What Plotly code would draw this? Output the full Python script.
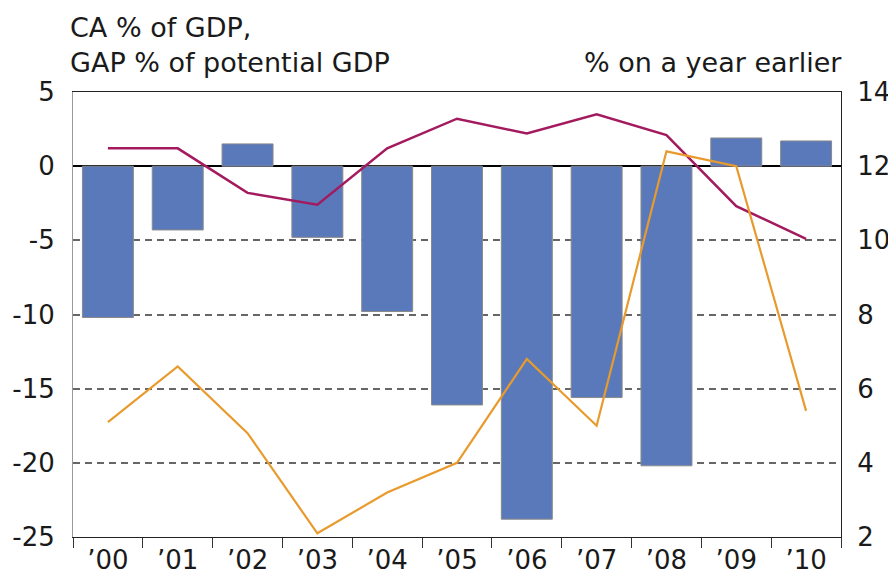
import plotly.graph_objects as go

years = ["’00", "’01", "’02", "’03", "’04", "’05", "’06", "’07", "’08", "’09", "’10"]
ca_pct_gdp = [-10.2, -4.3, 1.5, -4.8, -9.8, -16.1, -23.8, -15.6, -20.2, 1.9, 1.7]
output_gap = [1.2, 1.2, -1.8, -2.6, 1.2, 3.2, 2.2, 3.5, 2.1, -2.7, -4.9]
inflation = [5.1, 6.6, 4.8, 2.1, 3.2, 4.0, 6.8, 5.0, 12.4, 12.0, 5.4]

FONT = "DejaVu Sans"

fig = go.Figure()
fig.add_trace(go.Bar(
    x=years, y=ca_pct_gdp, width=0.73,
    marker=dict(color="#5A79BA", line=dict(color="#8a8a8a", width=1)),
    yaxis="y", showlegend=False,
))
fig.add_trace(go.Scatter(
    x=years, y=output_gap, mode="lines",
    line=dict(color="#A31A5F", width=2.5),
    yaxis="y", showlegend=False,
))
fig.add_trace(go.Scatter(
    x=years, y=inflation, mode="lines",
    line=dict(color="#E89B2C", width=2.2),
    yaxis="y2", showlegend=False,
))

fig.update_layout(
    width=896, height=574,
    margin=dict(l=65, r=63, t=84, b=45, autoexpand=False),
    paper_bgcolor="white", plot_bgcolor="white",
    font=dict(family=FONT, size=26, color="#1a1a1a"),
    xaxis=dict(
        type="category", tickson="boundaries", ticks="outside", ticklen=10,
        tickcolor="#333", tickwidth=1, automargin=False,
        showline=True, linecolor="#222", linewidth=1.2, mirror=True,
        showgrid=False, tickfont=dict(size=26),
    ),
    yaxis=dict(
        range=[-25, 5], tickvals=[-25, -20, -15, -10, -5, 0, 5],
        ticktext=["-25", "-20", "-15", "-10", "-5", "0", "5"],
        showgrid=True, gridcolor="#666", griddash="7px,5px", gridwidth=1.6,
        zeroline=True, zerolinecolor="#000", zerolinewidth=1.5,
        showline=True, linecolor="#999", linewidth=1, automargin=False,
        ticks="", ticklabelstandoff=12,
    ),
    yaxis2=dict(
        range=[2, 14], tickvals=[2, 4, 6, 8, 10, 12, 14],
        overlaying="y", side="right", showgrid=False, zeroline=False,
        showline=True, linecolor="#222", linewidth=1.2, automargin=False,
        ticks="", ticklabelstandoff=10,
    ),
    annotations=[
        dict(text="CA % of GDP,", xref="paper", yref="paper",
             x=0, y=1.0, xanchor="left", yanchor="middle", yshift=65, xshift=-5,
             showarrow=False, font=dict(size=27)),
        dict(text="GAP % of potential GDP", xref="paper", yref="paper",
             x=0, y=1.0, xanchor="left", yanchor="middle", yshift=30, xshift=-5,
             showarrow=False, font=dict(size=27)),
        dict(text="% on a year earlier", xref="paper", yref="paper",
             x=1.0, y=1.0, xanchor="right", yanchor="middle", yshift=30, xshift=3,
             showarrow=False, font=dict(size=27)),
    ],
)

fig.write_html("out.html")
